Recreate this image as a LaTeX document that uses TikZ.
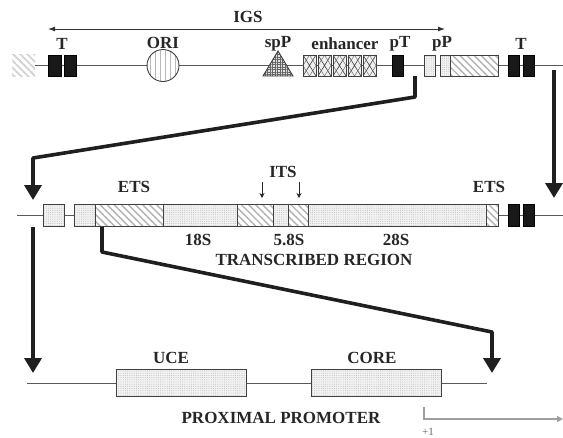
\documentclass[tikz,border=0pt]{standalone}
\usepackage{fontspec}
\setmainfont{Liberation Serif}
\usetikzlibrary{arrows.meta,patterns,patterns.meta}
\newcommand\gbox[6]{\node[#1, minimum width={(#5-#3)*1pt}, minimum height={(#6-#4)*1pt}] (#2) at ({(#3+#5)/2},{(#4+#6)/2}) {};}
\begin{document}
\begin{tikzpicture}[x=1pt,y=-1pt,
  dna/.style={draw=black!65, line width=1pt},
  lbl/.style={font=\bfseries\fontsize{17}{20}\selectfont, text=black!85, inner sep=0pt},
  outl/.style={draw=black!75, line width=0.9pt, inner sep=0pt, outer sep=0pt},
  dotbox/.style={outl, preaction={fill=gray!10}, pattern={Dots[distance=2.2pt,radius=0.45pt]}, pattern color=gray!60},
  hatchbox/.style={outl, preaction={fill=white}, pattern={Lines[angle=-45,distance=5pt,line width=1.4pt]}, pattern color=gray!60},
  blackbox/.style={outl, fill=black!90, draw=black},
  enhbox/.style={outl, fill=gray!12, path picture={
     \draw[black!75, line width=0.6pt] (path picture bounding box.north west) -- (path picture bounding box.south east)
        (path picture bounding box.north east) -- (path picture bounding box.south west);
     \draw[black!55, line width=0.5pt] (path picture bounding box.north) -- (path picture bounding box.east) -- (path picture bounding box.south) -- (path picture bounding box.west) -- cycle;}},
  bigarrow/.style={draw=black!88, line width=3.6pt, line join=round, -{Triangle[width=17pt,length=15pt]}},
  smallarrow/.style={draw=black!85, line width=0.8pt, -{Stealth[length=5pt,width=5pt]}},
]
\useasboundingbox (0,0) rectangle (563,437);

% ---------------- row 1 ----------------
\path[pattern={Lines[angle=-45,distance=5pt,line width=1.8pt]}, pattern color=gray!35] (12,54) rectangle (35,76);
\coordinate (r1l) at (35,65.5);
\coordinate (r1r) at (563,65.5);
\draw[dna] (r1l) -- (r1r);

\gbox{blackbox}{t1a}{48}{55}{61}{76}
\gbox{blackbox}{t1b}{64}{55}{76}{76}
\node[outl, circle, minimum size=32pt, preaction={fill=white}, pattern={Lines[angle=90,distance=5pt,line width=0.5pt]}, pattern color=gray!55] (ori) at (163,65.5) {};
\coordinate (spp) at (278,65);
\draw[outl, preaction={fill=gray!25}, pattern={Hatch[angle=0,distance=2.5pt,line width=0.5pt]}, pattern color=black!60] (263,76) -- (278,51) -- (293,76) -- cycle;
\gbox{enhbox}{e1}{303}{55}{316}{76}
\gbox{enhbox}{e2}{318}{55}{331}{76}
\gbox{enhbox}{e3}{333}{55}{346}{76}
\gbox{enhbox}{e4}{348}{55}{361}{76}
\gbox{enhbox}{e5}{363}{55}{376}{76}
\gbox{blackbox}{pt}{392}{55}{403}{76}
\gbox{dotbox}{pp}{424}{55}{435}{76}
\gbox{dotbox}{g1a}{440}{55}{450}{76}
\gbox{hatchbox}{g1b}{450}{55}{498}{76}
\gbox{blackbox}{t2a}{508}{55}{519}{76}
\gbox{blackbox}{t2b}{523}{55}{534}{76}

\node[lbl] (lT1) at (62,44) {T};
\node[lbl] (lori) at (163,43) {ORI};
\node[lbl] (lspp) at (278,44) {spP};
\node[lbl] (lenh) at (345,44) {enhancer};
\node[lbl] (lpt) at (400,44) {pT};
\node[lbl] (lpp) at (442,44) {pP};
\node[lbl] (lT2) at (521,44) {T};

\coordinate (igsl) at (48,29);
\coordinate (igsr) at (445,29);
\draw[draw=black!80, line width=0.9pt, {Latex[length=7pt,width=5pt]}-{Latex[length=7pt,width=5pt]}] (igsl) -- (igsr);
\node[lbl] (ligs) at (248,17) {IGS};

% ---------------- row 2 ----------------
\coordinate (r2l) at (17,215);
\coordinate (r2r) at (563,215);
\draw[dna] (r2l) -- (r2r);
\gbox{dotbox}{b0}{43}{204}{64}{226}
\gbox{dotbox}{s1}{74}{204}{95}{226}
\gbox{hatchbox}{s2}{95}{204}{163}{226}
\gbox{dotbox}{s3}{163}{204}{237}{226}
\gbox{hatchbox}{s4}{237}{204}{273}{226}
\gbox{dotbox}{s5}{273}{204}{288}{226}
\gbox{hatchbox}{s6}{288}{204}{308}{226}
\gbox{dotbox}{s7}{308}{204}{486}{226}
\gbox{hatchbox}{s8}{486}{204}{498}{226}
\gbox{blackbox}{t3a}{508}{204}{519}{226}
\gbox{blackbox}{t3b}{523}{204}{534}{226}

\node[lbl] (lets1) at (134,187) {ETS};
\node[lbl] (lets2) at (489,187) {ETS};
\node[lbl] (lits) at (283,172) {ITS};
\coordinate (i1a) at (262,182); \coordinate (i1b) at (262,198);
\coordinate (i2a) at (299,182); \coordinate (i2b) at (299,198);
\draw[smallarrow] (i1a) -- (i1b);
\draw[smallarrow] (i2a) -- (i2b);
\node[lbl] (l18) at (198,240) {18S};
\node[lbl] (l58) at (289,240) {5.8S};
\node[lbl] (l28) at (396,240) {28S};
\node[lbl] (ltr) at (314,260) {TRANSCRIBED REGION};

% ---------------- row 3 ----------------
\coordinate (r3l) at (27,383);
\coordinate (r3r) at (487,383);
\draw[dna] (r3l) -- (r3r);
\gbox{dotbox}{uce}{116}{369}{246}{396}
\gbox{dotbox}{core}{311}{369}{441}{396}
\node[lbl] (luce) at (171,358) {UCE};
\node[lbl] (lcore) at (372,358) {CORE};
\node[lbl] (lpp2) at (281,418) {PROXIMAL PROMOTER};
\coordinate (p1) at (424,407);
\coordinate (p2) at (563,419);
\draw[draw=gray!75, line width=1.5pt, -{Triangle[length=6pt,width=6pt]}] (p1) |- (p2);
\node[font=\fontsize{11}{13}\selectfont, text=black!60, inner sep=0pt] (lp1) at (428,432) {+1};

% ---------------- thick connectors ----------------
\coordinate (a1) at (415,76); \coordinate (a2) at (415,97);
\coordinate (a3) at (33,158); \coordinate (a4) at (33,200);
\draw[bigarrow] (a1) -- (a2) -- (a3) -- (a4);
\coordinate (b1) at (554,70); \coordinate (b2) at (554,198);
\draw[bigarrow] (b1) -- (b2);
\coordinate (c1) at (33,227); \coordinate (c2) at (33,373);
\draw[bigarrow] (c1) -- (c2);
\coordinate (d1) at (102,227); \coordinate (d2) at (102,252);
\coordinate (d3) at (492,332); \coordinate (d4) at (492,373);
\draw[bigarrow] (d1) -- (d2) -- (d3) -- (d4);
\end{tikzpicture}
\end{document}
